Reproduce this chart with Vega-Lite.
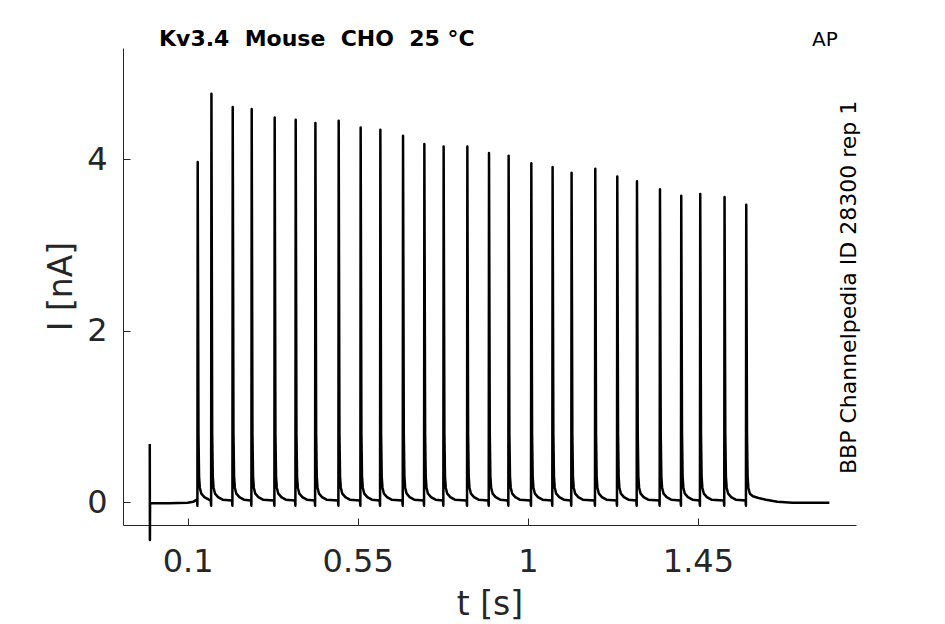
{
  "$schema": "https://vega.github.io/schema/vega-lite/v6.json",
  "autosize": {"type": "none"},
  "padding": {"left": 123, "top": 48, "right": 89, "bottom": 99},
  "width": 733,
  "height": 477,
  "background": "white",
  "title": {
    "text": "Kv3.4\u00a0 Mouse\u00a0 CHO\u00a0 25 °C",
    "anchor": "start",
    "frame": "group",
    "font": "DejaVu Sans",
    "fontSize": 22,
    "fontWeight": "bold",
    "color": "black",
    "baseline": "alphabetic",
    "offset": 1,
    "dx": 36,
    "dy": 39
  },
  "layer": [
    {
      "data": {
        "values": [
          {"t": 0, "i": 0.68}, {"t": 0.0004, "i": -0.44}, {"t": 0.0008, "i": -0.01},
          {"t": 0.05, "i": -0.012}, {"t": 0.1, "i": -0.005}, {"t": 0.115, "i": 0.005}, {"t": 0.122, "i": 0.025},
          {"t": 0.1249, "i": 0.03}, {"t": 0.126, "i": -0.04}, {"t": 0.1268, "i": 3.965}, {"t": 0.1288, "i": 0.8}, {"t": 0.1304, "i": 0.3}, {"t": 0.1324, "i": 0.17}, {"t": 0.1364, "i": 0.1}, {"t": 0.1444, "i": 0.06}, {"t": 0.1564, "i": 0.03},
          {"t": 0.1612, "i": 0.02}, {"t": 0.1623, "i": -0.04}, {"t": 0.1631, "i": 4.762}, {"t": 0.1651, "i": 0.8}, {"t": 0.1667, "i": 0.3}, {"t": 0.1687, "i": 0.17}, {"t": 0.1727, "i": 0.1}, {"t": 0.1807, "i": 0.06}, {"t": 0.1927, "i": 0.03},
          {"t": 0.2175, "i": 0.02}, {"t": 0.2186, "i": -0.04}, {"t": 0.2194, "i": 4.606}, {"t": 0.2214, "i": 0.8}, {"t": 0.223, "i": 0.3}, {"t": 0.225, "i": 0.17}, {"t": 0.229, "i": 0.1}, {"t": 0.237, "i": 0.06}, {"t": 0.249, "i": 0.03},
          {"t": 0.2677, "i": 0.02}, {"t": 0.2688, "i": -0.04}, {"t": 0.2696, "i": 4.583}, {"t": 0.2716, "i": 0.8}, {"t": 0.2732, "i": 0.3}, {"t": 0.2752, "i": 0.17}, {"t": 0.2792, "i": 0.1}, {"t": 0.2872, "i": 0.06}, {"t": 0.2992, "i": 0.03},
          {"t": 0.3285, "i": 0.02}, {"t": 0.3296, "i": -0.04}, {"t": 0.3304, "i": 4.485}, {"t": 0.3324, "i": 0.8}, {"t": 0.334, "i": 0.3}, {"t": 0.336, "i": 0.17}, {"t": 0.34, "i": 0.1}, {"t": 0.348, "i": 0.06}, {"t": 0.36, "i": 0.03},
          {"t": 0.3841, "i": 0.02}, {"t": 0.3852, "i": -0.04}, {"t": 0.386, "i": 4.458}, {"t": 0.388, "i": 0.8}, {"t": 0.3896, "i": 0.3}, {"t": 0.3916, "i": 0.17}, {"t": 0.3956, "i": 0.1}, {"t": 0.4036, "i": 0.06}, {"t": 0.4156, "i": 0.03},
          {"t": 0.4362, "i": 0.02}, {"t": 0.4373, "i": -0.04}, {"t": 0.4381, "i": 4.42}, {"t": 0.4401, "i": 0.8}, {"t": 0.4417, "i": 0.3}, {"t": 0.4437, "i": 0.17}, {"t": 0.4477, "i": 0.1}, {"t": 0.4557, "i": 0.06}, {"t": 0.4677, "i": 0.03},
          {"t": 0.4978, "i": 0.02}, {"t": 0.4989, "i": -0.04}, {"t": 0.4997, "i": 4.447}, {"t": 0.5017, "i": 0.8}, {"t": 0.5033, "i": 0.3}, {"t": 0.5053, "i": 0.17}, {"t": 0.5093, "i": 0.1}, {"t": 0.5173, "i": 0.06}, {"t": 0.5293, "i": 0.03},
          {"t": 0.5559, "i": 0.02}, {"t": 0.557, "i": -0.04}, {"t": 0.5578, "i": 4.368}, {"t": 0.5598, "i": 0.8}, {"t": 0.5614, "i": 0.3}, {"t": 0.5634, "i": 0.17}, {"t": 0.5674, "i": 0.1}, {"t": 0.5754, "i": 0.06}, {"t": 0.5874, "i": 0.03},
          {"t": 0.608, "i": 0.02}, {"t": 0.6091, "i": -0.04}, {"t": 0.6099, "i": 4.342}, {"t": 0.6119, "i": 0.8}, {"t": 0.6135, "i": 0.3}, {"t": 0.6155, "i": 0.17}, {"t": 0.6195, "i": 0.1}, {"t": 0.6275, "i": 0.06}, {"t": 0.6395, "i": 0.03},
          {"t": 0.668, "i": 0.02}, {"t": 0.6691, "i": -0.04}, {"t": 0.6699, "i": 4.272}, {"t": 0.6719, "i": 0.8}, {"t": 0.6735, "i": 0.3}, {"t": 0.6755, "i": 0.17}, {"t": 0.6795, "i": 0.1}, {"t": 0.6875, "i": 0.06}, {"t": 0.6995, "i": 0.03},
          {"t": 0.7244, "i": 0.02}, {"t": 0.7255, "i": -0.04}, {"t": 0.7263, "i": 4.175}, {"t": 0.7283, "i": 0.8}, {"t": 0.7299, "i": 0.3}, {"t": 0.7319, "i": 0.17}, {"t": 0.7359, "i": 0.1}, {"t": 0.7439, "i": 0.06}, {"t": 0.7559, "i": 0.03},
          {"t": 0.7754, "i": 0.02}, {"t": 0.7765, "i": -0.04}, {"t": 0.7773, "i": 4.147}, {"t": 0.7793, "i": 0.8}, {"t": 0.7809, "i": 0.3}, {"t": 0.7829, "i": 0.17}, {"t": 0.7869, "i": 0.1}, {"t": 0.7949, "i": 0.06}, {"t": 0.8069, "i": 0.03},
          {"t": 0.8381, "i": 0.02}, {"t": 0.8392, "i": -0.04}, {"t": 0.84, "i": 4.147}, {"t": 0.842, "i": 0.8}, {"t": 0.8436, "i": 0.3}, {"t": 0.8456, "i": 0.17}, {"t": 0.8496, "i": 0.1}, {"t": 0.8576, "i": 0.06}, {"t": 0.8696, "i": 0.03},
          {"t": 0.8954, "i": 0.02}, {"t": 0.8965, "i": -0.04}, {"t": 0.8973, "i": 4.07}, {"t": 0.8993, "i": 0.8}, {"t": 0.9009, "i": 0.3}, {"t": 0.9029, "i": 0.17}, {"t": 0.9069, "i": 0.1}, {"t": 0.9149, "i": 0.06}, {"t": 0.9269, "i": 0.03},
          {"t": 0.9473, "i": 0.02}, {"t": 0.9484, "i": -0.04}, {"t": 0.9492, "i": 4.038}, {"t": 0.9512, "i": 0.8}, {"t": 0.9528, "i": 0.3}, {"t": 0.9548, "i": 0.17}, {"t": 0.9588, "i": 0.1}, {"t": 0.9668, "i": 0.06}, {"t": 0.9788, "i": 0.03},
          {"t": 1.0073, "i": 0.02}, {"t": 1.0084, "i": -0.04}, {"t": 1.0092, "i": 3.953}, {"t": 1.0112, "i": 0.8}, {"t": 1.0128, "i": 0.3}, {"t": 1.0148, "i": 0.17}, {"t": 1.0188, "i": 0.1}, {"t": 1.0268, "i": 0.06}, {"t": 1.0388, "i": 0.03},
          {"t": 1.0636, "i": 0.02}, {"t": 1.0647, "i": -0.04}, {"t": 1.0655, "i": 3.907}, {"t": 1.0675, "i": 0.8}, {"t": 1.0691, "i": 0.3}, {"t": 1.0711, "i": 0.17}, {"t": 1.0751, "i": 0.1}, {"t": 1.0831, "i": 0.06}, {"t": 1.0951, "i": 0.03},
          {"t": 1.1138, "i": 0.02}, {"t": 1.1149, "i": -0.04}, {"t": 1.1157, "i": 3.84}, {"t": 1.1177, "i": 0.8}, {"t": 1.1193, "i": 0.3}, {"t": 1.1213, "i": 0.17}, {"t": 1.1253, "i": 0.1}, {"t": 1.1333, "i": 0.06}, {"t": 1.1453, "i": 0.03},
          {"t": 1.1765, "i": 0.02}, {"t": 1.1776, "i": -0.04}, {"t": 1.1784, "i": 3.887}, {"t": 1.1804, "i": 0.8}, {"t": 1.182, "i": 0.3}, {"t": 1.184, "i": 0.17}, {"t": 1.188, "i": 0.1}, {"t": 1.196, "i": 0.06}, {"t": 1.208, "i": 0.03},
          {"t": 1.2347, "i": 0.02}, {"t": 1.2358, "i": -0.04}, {"t": 1.2366, "i": 3.797}, {"t": 1.2386, "i": 0.8}, {"t": 1.2402, "i": 0.3}, {"t": 1.2422, "i": 0.17}, {"t": 1.2462, "i": 0.1}, {"t": 1.2542, "i": 0.06}, {"t": 1.2662, "i": 0.03},
          {"t": 1.2868, "i": 0.02}, {"t": 1.2879, "i": -0.04}, {"t": 1.2887, "i": 3.743}, {"t": 1.2907, "i": 0.8}, {"t": 1.2923, "i": 0.3}, {"t": 1.2943, "i": 0.17}, {"t": 1.2983, "i": 0.1}, {"t": 1.3063, "i": 0.06}, {"t": 1.3183, "i": 0.03},
          {"t": 1.3476, "i": 0.02}, {"t": 1.3487, "i": -0.04}, {"t": 1.3495, "i": 3.65}, {"t": 1.3515, "i": 0.8}, {"t": 1.3531, "i": 0.3}, {"t": 1.3551, "i": 0.17}, {"t": 1.3591, "i": 0.1}, {"t": 1.3671, "i": 0.06}, {"t": 1.3791, "i": 0.03},
          {"t": 1.4039, "i": 0.02}, {"t": 1.405, "i": -0.04}, {"t": 1.4058, "i": 3.572}, {"t": 1.4078, "i": 0.8}, {"t": 1.4094, "i": 0.3}, {"t": 1.4114, "i": 0.17}, {"t": 1.4154, "i": 0.1}, {"t": 1.4234, "i": 0.06}, {"t": 1.4354, "i": 0.03},
          {"t": 1.4541, "i": 0.02}, {"t": 1.4552, "i": -0.04}, {"t": 1.456, "i": 3.592}, {"t": 1.458, "i": 0.8}, {"t": 1.4596, "i": 0.3}, {"t": 1.4616, "i": 0.17}, {"t": 1.4656, "i": 0.1}, {"t": 1.4736, "i": 0.06}, {"t": 1.4856, "i": 0.03},
          {"t": 1.5184, "i": 0.02}, {"t": 1.5195, "i": -0.04}, {"t": 1.5203, "i": 3.557}, {"t": 1.5223, "i": 0.8}, {"t": 1.5239, "i": 0.3}, {"t": 1.5259, "i": 0.17}, {"t": 1.5299, "i": 0.1}, {"t": 1.5379, "i": 0.06}, {"t": 1.5499, "i": 0.03},
          {"t": 1.5758, "i": 0.02}, {"t": 1.5769, "i": -0.04}, {"t": 1.5777, "i": 3.467}, {"t": 1.5797, "i": 0.8}, {"t": 1.5813, "i": 0.3}, {"t": 1.5833, "i": 0.17}, {"t": 1.5873, "i": 0.1}, {"t": 1.5953, "i": 0.07}, {"t": 1.61, "i": 0.05}, {"t": 1.63, "i": 0.03}, {"t": 1.66, "i": 0.005}, {"t": 1.7, "i": -0.005}, {"t": 1.75, "i": -0.005}, {"t": 1.7975, "i": -0.005}
        ]
      },
      "mark": {"type": "line", "color": "black", "strokeWidth": 2.5, "strokeJoin": "round"},
      "encoding": {
        "x": {
          "field": "t",
          "type": "quantitative",
          "scale": {"domain": [-0.0708, 1.868], "nice": false, "zero": false},
          "axis": {
            "title": "t [s]",
            "values": [0.1, 0.55, 1, 1.45],
            "format": ".3~g",
            "labelPadding": 28,
            "titleY": 89,
            "titleBaseline": "alphabetic"
          }
        },
        "y": {
          "field": "i",
          "type": "quantitative",
          "scale": {"domain": [-0.265, 5.295], "nice": false, "zero": false},
          "axis": {
            "title": "I [nA]",
            "values": [0, 2, 4],
            "format": "d",
            "labelPadding": 23,
            "titleX": -52,
            "titleY": 238,
            "titleAngle": 270,
            "titleBaseline": "alphabetic",
            "titleFontSize": 33
          }
        }
      }
    },
    {
      "data": {"values": [{"label": "AP"}]},
      "mark": {"type": "text", "font": "DejaVu Sans", "fontSize": 20, "align": "center", "baseline": "alphabetic", "color": "black"},
      "encoding": {
        "x": {"datum": 1.786, "type": "quantitative"},
        "y": {"datum": 5.321, "type": "quantitative"},
        "text": {"field": "label"}
      }
    },
    {
      "data": {"values": [{"label": "BBP Channelpedia ID 28300 rep 1"}]},
      "mark": {"type": "text", "font": "DejaVu Sans", "fontSize": 22, "angle": 270, "align": "center", "baseline": "alphabetic", "color": "black"},
      "encoding": {
        "x": {"datum": 1.868, "type": "quantitative"},
        "y": {"datum": 2.505, "type": "quantitative"},
        "text": {"field": "label"}
      }
    }
  ],
  "config": {
    "view": {"stroke": null},
    "axis": {
      "grid": false,
      "tickSize": -7,
      "tickColor": "#262626",
      "domainColor": "#262626",
      "labelColor": "#262626",
      "titleColor": "#262626",
      "labelFont": "DejaVu Sans",
      "titleFont": "DejaVu Sans",
      "labelFontSize": 32,
      "titleFontSize": 33,
      "titleFontWeight": "normal",
      "labelFlush": false,
      "labelOverlap": false
    }
  }
}
